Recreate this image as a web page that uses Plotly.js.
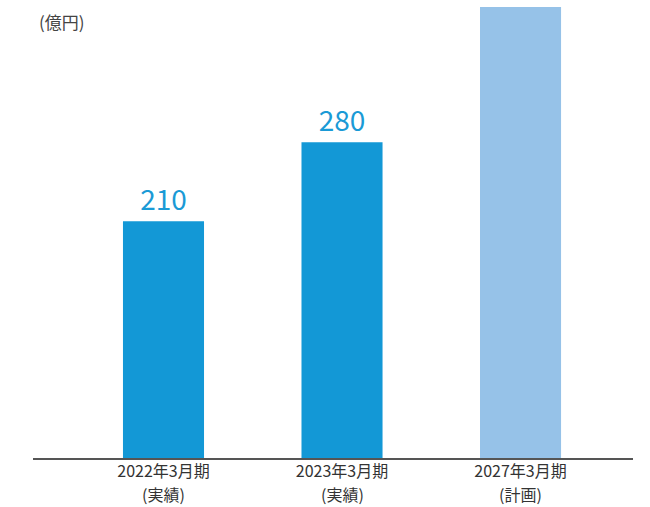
<!DOCTYPE html>
<html><head><meta charset="utf-8">
<script src="https://cdn.plot.ly/plotly-3.0.1.min.js"></script>
<style>body{margin:0;background:#fff}#chart{width:650px;height:507px}</style>
</head><body><div id="chart"></div>
<script>
const categories = ["2022年3月期", "2023年3月期", "2027年3月期"];
const subLabels = ["(実績)", "(実績)", "(計画)"];
const values = [210, 280, 400];
const labels = ["210", "280", ""];
const colors = ["#1398d6", "#1398d6", "#96c2e8"];
const unitLabel = "(億円)";

const font = "'Noto Sans CJK JP', 'Noto Sans', sans-serif";
const annotations = [{
  text: unitLabel, xref: "paper", yref: "paper",
  x: 4/600, y: 1, xanchor: "left", yanchor: "top",
  showarrow: false,
  font: {family: font, size: 17, color: "#444"}
}];
categories.forEach((c, i) => annotations.push({
  text: subLabels[i], xref: "x", yref: "paper",
  x: c, y: 0, xanchor: "center", yanchor: "middle", yshift: -36,
  showarrow: false,
  font: {family: font, size: 16, color: "#333"}
}));

Plotly.newPlot("chart", [{
  type: "bar",
  x: categories,
  y: values,
  text: labels,
  textposition: "outside",
  textfont: {family: font, size: 28, color: "#1a9ad6"},
  cliponaxis: false,
  marker: {color: colors},
  width: 0.454,
  hoverinfo: "none"
}], {
  width: 650, height: 507,
  margin: {l: 33, r: 17, t: 7, b: 49},
  paper_bgcolor: "#fff", plot_bgcolor: "#fff",
  showlegend: false,
  xaxis: {
    type: "category",
    range: [-0.731, 2.63],
    showline: true, linecolor: "#555", linewidth: 1.5,
    ticks: "", showgrid: false,
    ticklabelstandoff: -2,
    tickfont: {family: font, size: 16, color: "#333"}
  },
  yaxis: {
    range: [0, 400],
    showgrid: false, zeroline: false, showline: false,
    showticklabels: false, ticks: ""
  },
  annotations: annotations
}, {staticPlot: true});
</script></body></html>
